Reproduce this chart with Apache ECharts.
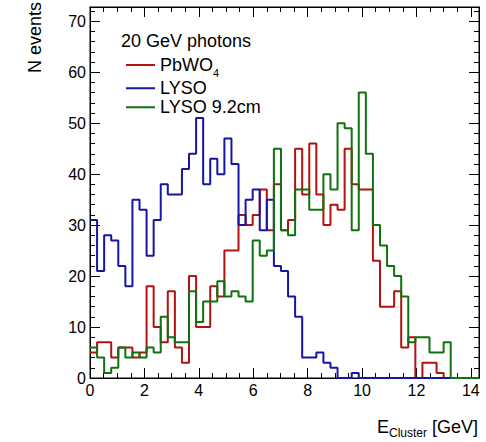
<!DOCTYPE html>
<html>
<head>
<meta charset="utf-8">
<script src="https://cdn.jsdelivr.net/npm/echarts@6/dist/echarts.min.js"></script>
<style>
html, body { margin: 0; padding: 0; background: #fff; }
#main { width: 486px; height: 442px; }
</style>
</head>
<body>
<div id="main"></div>
<script>
// 55 bins of 0.26 GeV (0 - 14.3 GeV)
var binWidth = 0.26;
var xTicks = [0, 2, 4, 6, 8, 10, 12, 14];
var yTicks = [0, 10, 20, 30, 40, 50, 60, 70];

var pbwo4 = [5, 7, 7, 4, 6, 6, 4, 5, 18, 10, 7, 17, 6, 3, 20,
  10, 10, 18, 16, 25, 25, 32, 30, 32, 37, 29, 38, 29, 31,
  45, 36, 46, 36, 30, 34, 33, 45, 38, 37, 37,
  23, 14, 14, 17, 6, 8, 0, 3, 3, 1, 0, 0, 0, 0, 0];
var lyso = [31, 21, 28, 27, 22, 18, 35, 33, 24, 31, 38, 36, 36, 41, 44,
  51, 38, 43, 40, 47, 42, 30, 35, 37, 29, 35, 22, 21, 16,
  12, 4, 4, 5, 3, 2, 0, 0, 1, 0, 0,
  0, 0, 0, 0, 0, 0, 0, 0, 0, 0, 0, 0, 0, 0, 0];
var lyso92 = [6, 4, 1, 2, 6, 4, 5, 4, 6, 5, 12, 8, 7, 7, 17,
  11, 15, 15, 19, 16, 17, 16, 15, 27, 24, 25, 45, 29, 28,
  37, 37, 33, 33, 40, 37, 50, 49, 29, 56, 44,
  30, 26, 22, 20, 16, 7, 8, 8, 5, 5, 7, 0, 0, 0, 0];

var xMax = pbwo4.length * binWidth;
var yMax = 72.8; // 1.3 * max bin

// bin left edges + closing point, drawn with step:'end'
function toSteps(vals) {
  var pts = [];
  for (var i = 0; i < vals.length; i++) pts.push([i * binWidth, vals[i]]);
  pts.push([vals.length * binWidth, vals[vals.length - 1]]);
  return pts;
}

var font = 'Liberation Sans, Arial, sans-serif';

function xAx(pos, labels) {
  return {
    type: 'value', position: pos, min: xTicks[0], max: xMax,
    interval: xTicks[1] - xTicks[0],
    axisLine: { show: true, onZero: false, lineStyle: { color: '#000', width: 1 } },
    axisTick: { show: true, inside: true, length: 10, lineStyle: { color: '#000' } },
    minorTick: { show: true, splitNumber: 4, length: 5, lineStyle: { color: '#000' } },
    splitLine: { show: false },
    axisLabel: { show: labels, color: '#000', fontSize: 16, fontFamily: font, margin: 4,
      showMaxLabel: false,
      formatter: function (v) { return xTicks.indexOf(v) >= 0 ? String(v) : ''; } }
  };
}
function yAx(pos, labels) {
  return {
    type: 'value', position: pos, min: yTicks[0], max: yMax,
    interval: yTicks[1] - yTicks[0],
    axisLine: { show: true, onZero: false, lineStyle: { color: '#000', width: 1 } },
    axisTick: { show: true, inside: true, length: 10, lineStyle: { color: '#000' } },
    minorTick: { show: true, splitNumber: 5, length: 5, lineStyle: { color: '#000' } },
    splitLine: { show: false },
    axisLabel: { show: labels, color: '#000', fontSize: 16, fontFamily: font, margin: 4,
      showMaxLabel: false, hideOverlap: false,
      formatter: function (v) { return yTicks.indexOf(v) >= 0 ? String(v) : ''; } }
  };
}

var chart = echarts.init(document.getElementById('main'), null, { renderer: 'svg' });

var option = {
  animation: false,
  backgroundColor: '#fff',
  grid: { left: 90, right: 7, top: 7, bottom: 64, show: true, borderColor: '#000', borderWidth: 1 },
  title: {
    text: '20 GeV photons', left: 116, top: 27,
    textStyle: { color: '#000', fontSize: 18, fontWeight: 'normal', fontFamily: font }
  },
  legend: {
    orient: 'vertical', left: 121, top: 51, itemGap: 1,
    itemWidth: 29, itemHeight: 2, icon: 'rect',
    data: ['PbWO4', 'LYSO', 'LYSO 9.2cm'],
    formatter: function (name) { return name === 'PbWO4' ? '{m|PbWO}{sub|4}' : '{m|' + name + '}'; },
    textStyle: {
      color: '#000', fontSize: 18, fontFamily: font,
      rich: {
        m: { fontSize: 18, fontFamily: font, color: '#000', lineHeight: 20.5 },
        sub: { fontSize: 11, fontFamily: font, color: '#000', lineHeight: 20.5, verticalAlign: 'bottom', padding: [0, 0, -3, 0] }
      }
    }
  },
  xAxis: [xAx('bottom', true), xAx('top', false)],
  yAxis: [yAx('left', true), yAx('right', false)],
  graphic: [
    {
      type: 'text', x: 44, y: 2, rotation: Math.PI / 2,
      style: { text: 'N events', fill: '#000', font: '18px ' + font, align: 'right', verticalAlign: 'bottom' }
    },
    {
      type: 'text', right: 8, top: 418,
      style: {
        text: '{m|E}{s|Cluster}{m| [GeV]}', fill: '#000',
        rich: {
          m: { fontSize: 18, fontFamily: font, fill: '#000', lineHeight: 20 },
          s: { fontSize: 12, fontFamily: font, fill: '#000', lineHeight: 20, verticalAlign: 'bottom', padding: [0, 0, -2, 0] }
        }
      }
    }
  ],
  series: [
    { name: 'PbWO4', type: 'line', step: 'end', symbol: 'none', data: toSteps(pbwo4),
      color: '#b3120f', lineStyle: { color: '#b3120f', width: 2 } },
    { name: 'LYSO', type: 'line', step: 'end', symbol: 'none', data: toSteps(lyso),
      color: '#1616a6', lineStyle: { color: '#1616a6', width: 2 } },
    { name: 'LYSO 9.2cm', type: 'line', step: 'end', symbol: 'none', data: toSteps(lyso92),
      color: '#0e720e', lineStyle: { color: '#0e720e', width: 2 } }
  ]
};
chart.setOption(option);
</script>
</body>
</html>
